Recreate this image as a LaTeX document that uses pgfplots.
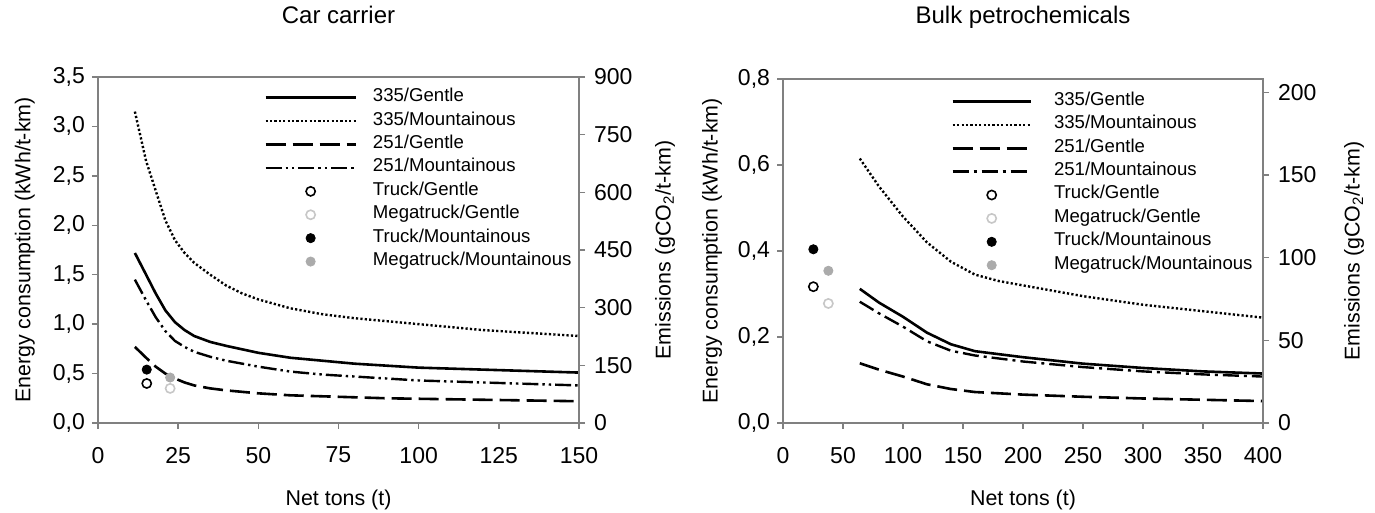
\documentclass[border=0pt]{standalone}
\usepackage{fontspec}
\setmainfont{Liberation Sans}
\usepackage{pgfplots}
\pgfplotsset{compat=1.18}

\definecolor{axgray}{gray}{0.5}
\definecolor{mtgentle}{gray}{0.78}
\definecolor{mtmount}{gray}{0.67}

\pgfplotsset{
  panel/.style={
    scale only axis,
    axis line style={axgray, line width=0.7pt},
    tick style={axgray, line width=0.7pt},
    tick align=outside, major tick length=3pt,
    ticklabel style={font=\fontsize{11.5}{13}\selectfont},
    xticklabel style={yshift=-5.5pt},
    label style={font=\fontsize{10.7}{12}\selectfont},
    /pgf/number format/assume math mode=true,
    xmin=0, ymin=0,
  },
  legbox/.style={
    legend style={draw=none, fill=none, inner sep=0pt,
      font=\fontsize{9.3}{11}\selectfont,
      nodes={inner sep=0pt, text height=7.8pt, text depth=3.9pt}},
    legend cell align=left,
  },
  s335g/.style={black, line width=1.3pt},
  s335m/.style={black, line width=1.2pt, dash pattern=on 1.1pt off 1.1pt},
  s251g/.style={black, line width=1.3pt, dash pattern=on 10pt off 3.5pt},
  s251mL/.style={black, line width=1.2pt, dash pattern=on 8pt off 2pt on 1.2pt off 2pt on 1.2pt off 2pt},
  s251mR/.style={black, line width=1.2pt, dash pattern=on 8pt off 2.5pt on 1.5pt off 2.5pt},
  ptL/.style={only marks, mark=*, mark size=2.3pt,
    legend image code/.code={\draw[##1] plot coordinates {(22.5pt,0pt)};}},
  ptR/.style={only marks, mark=*, mark size=2.3pt,
    legend image code/.code={\draw[##1] plot coordinates {(19.5pt,0pt)};}},
  hollow/.style={fill=white, mark options={line width=0.8pt}},
}

\begin{document}
\begin{tikzpicture}

% ---------------- Car carrier ----------------
\begin{axis}[panel, legbox,
  width=240.5pt, height=173pt,
  at={(0pt,0pt)}, anchor=south west,
  xmax=150, ymax=3.5,
  tick pos=left,
  xtick={0,25,...,150},
  ytick={0,0.5,1,1.5,2,2.5,3,3.5},
  yticklabel style={/pgf/number format/.cd, fixed, fixed zerofill, precision=1, use comma},
  title={Car carrier},
  title style={at={(axis description cs:0.5,1)}, anchor=base, yshift=20.5pt, font=\fontsize{12}{14}\selectfont},
  xlabel={Net tons (t)},
  xlabel style={at={(axis description cs:0.5,0)}, anchor=center, yshift=-38.5pt},
  ylabel={Energy consumption (kWh/t-km)},
  ylabel style={at={(axis description cs:-0.152,0.5)}, anchor=center},
  legend image code/.code={\draw[#1] (0pt,0pt) -- (45pt,0pt);},
  legend style={at={(0.345,0.975)}, anchor=north west, column sep=8pt},
]
\addplot[s335g] coordinates {
  (11.5,1.72) (15,1.50) (18,1.31) (21,1.14) (24,1.02) (27,0.94) (30,0.88)
  (35,0.82) (40,0.78) (50,0.71) (60,0.66) (70,0.63) (80,0.60) (90,0.58)
  (100,0.56) (110,0.55) (120,0.54) (130,0.53) (140,0.52) (150,0.51)};
\addlegendentry{335/Gentle}
\addplot[s335m] coordinates {
  (11.5,3.15) (15,2.65) (18,2.35) (21,2.05) (24,1.85) (27,1.72) (30,1.62)
  (35,1.50) (40,1.39) (45,1.31) (50,1.25) (60,1.16) (70,1.10) (80,1.06)
  (90,1.03) (100,1.00) (110,0.97) (120,0.94) (130,0.92) (140,0.90) (150,0.88)};
\addlegendentry{335/Mountainous}
\addplot[s251g] coordinates {
  (11.5,0.77) (15,0.66) (18,0.57) (21,0.50) (24,0.45) (27,0.41) (30,0.38)
  (35,0.35) (40,0.33) (50,0.30) (60,0.28) (70,0.27) (80,0.26) (90,0.25)
  (100,0.245) (120,0.235) (150,0.22)};
\addlegendentry{251/Gentle}
\addplot[s251mL] coordinates {
  (11.5,1.45) (15,1.24) (18,1.07) (21,0.93) (24,0.83) (27,0.77) (30,0.72)
  (35,0.67) (40,0.63) (50,0.57) (60,0.52) (70,0.49) (80,0.47) (90,0.45)
  (100,0.43) (110,0.42) (120,0.41) (130,0.40) (140,0.39) (150,0.38)};
\addlegendentry{251/Mountainous}
\addplot[ptL, hollow, draw=black] coordinates {(15.2,0.40)};
\addlegendentry{Truck/Gentle}
\addplot[ptL, hollow, draw=mtgentle] coordinates {(22.5,0.35)};
\addlegendentry{Megatruck/Gentle}
\addplot[ptL, black] coordinates {(15.2,0.54)};
\addlegendentry{Truck/Mountainous}
\addplot[ptL, mtmount] coordinates {(22.5,0.46)};
\addlegendentry{Megatruck/Mountainous}
\end{axis}

\begin{axis}[panel,
  width=240.5pt, height=173pt,
  at={(0pt,0pt)}, anchor=south west,
  axis x line=none, axis y line*=right,
  xmax=150, ymax=900,
  ytick={0,150,...,900},
  yticklabel style={xshift=1pt},
  ylabel={Emissions (gCO\textsubscript{2}/t-km)},
  ylabel style={at={(axis description cs:1.179,0.5)}, anchor=center},
]
\addplot[draw=none] coordinates {(0,0)};
\end{axis}

% ---------------- Bulk petrochemicals ----------------
\begin{axis}[panel, legbox,
  width=240pt, height=172pt,
  at={(342.5pt,0pt)}, anchor=south west,
  xmax=400, ymax=0.8,
  tick pos=left,
  xtick={0,50,...,400},
  ytick={0,0.2,0.4,0.6,0.8},
  yticklabel style={/pgf/number format/.cd, fixed, fixed zerofill, precision=1, use comma},
  title={Bulk petrochemicals},
  title style={at={(axis description cs:0.5,1)}, anchor=base, yshift=21.5pt, font=\fontsize{12}{14}\selectfont},
  xlabel={Net tons (t)},
  xlabel style={at={(axis description cs:0.5,0)}, anchor=center, yshift=-38.5pt},
  ylabel={Energy consumption (kWh/t-km)},
  ylabel style={at={(axis description cs:-0.148,0.5)}, anchor=center},
  legend image code/.code={\draw[#1] (0pt,0pt) -- (39pt,0pt);},
  legend style={at={(0.35,0.97)}, anchor=north west, column sep=11pt},
]
\addplot[s335g] coordinates {
  (64,0.312) (80,0.280) (100,0.247) (120,0.210) (140,0.183) (160,0.167)
  (180,0.160) (200,0.153) (250,0.138) (300,0.128) (350,0.120) (400,0.115)};
\addlegendentry{335/Gentle}
\addplot[s335m] coordinates {
  (64,0.615) (80,0.550) (100,0.480) (120,0.420) (140,0.375) (160,0.345)
  (180,0.330) (200,0.320) (250,0.295) (300,0.275) (350,0.260) (400,0.245)};
\addlegendentry{335/Mountainous}
\addplot[s251g] coordinates {
  (64,0.139) (80,0.124) (100,0.108) (120,0.090) (140,0.079) (160,0.072)
  (180,0.069) (200,0.066) (250,0.061) (300,0.057) (350,0.054) (400,0.051)};
\addlegendentry{251/Gentle}
\addplot[s251mR] coordinates {
  (64,0.282) (80,0.255) (100,0.224) (120,0.190) (140,0.168) (160,0.157)
  (180,0.150) (200,0.143) (250,0.130) (300,0.120) (350,0.113) (400,0.108)};
\addlegendentry{251/Mountainous}
\addplot[ptR, hollow, draw=black] coordinates {(25.3,0.317)};
\addlegendentry{Truck/Gentle}
\addplot[ptR, hollow, draw=mtgentle] coordinates {(37.8,0.278)};
\addlegendentry{Megatruck/Gentle}
\addplot[ptR, black] coordinates {(25.3,0.404)};
\addlegendentry{Truck/Mountainous}
\addplot[ptR, mtmount] coordinates {(37.8,0.354)};
\addlegendentry{Megatruck/Mountainous}
\end{axis}

\begin{axis}[panel,
  width=240pt, height=172pt,
  at={(342.5pt,0pt)}, anchor=south west,
  axis x line=none, axis y line*=right,
  xmax=400, ymax=208,
  ytick={0,50,...,200},
  yticklabel style={xshift=1pt},
  ylabel={Emissions (gCO\textsubscript{2}/t-km)},
  ylabel style={at={(axis description cs:1.19,0.5)}, anchor=center},
]
\addplot[draw=none] coordinates {(0,0)};
\end{axis}

\pgfresetboundingbox
\path[use as bounding box] (-49pt,-45pt) rectangle (638.5pt,211.5pt);
\end{tikzpicture}
\end{document}
